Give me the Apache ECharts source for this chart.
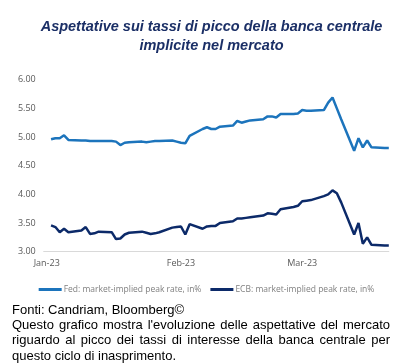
<!DOCTYPE html>
<html>
<head>
<meta charset="utf-8">
<script src="https://cdn.jsdelivr.net/npm/echarts@6/dist/echarts.min.js"></script>
<style>
  html, body { margin: 0; padding: 0; background: #ffffff; }
  #wrap { position: relative; width: 413px; height: 364px; overflow: hidden; }
  #chart { position: absolute; left: 0; top: 0; width: 413px; height: 364px; }
  #note { position: absolute; left: 12px; top: 301.5px; width: 378px;
          font-family: "Liberation Sans", Arial, sans-serif; font-size: 13px;
          line-height: 15.4px; color: #000; }
  #note .j { text-align: justify; text-align-last: justify; white-space: nowrap; }
  #note .l { text-align: left; white-space: nowrap; }
</style>
</head>
<body>
<div id="wrap">
  <div id="chart"></div>
  <div id="note">
    <div class="l">Fonti: Candriam, Bloomberg©</div>
    <div class="j">Questo grafico mostra l'evoluzione delle aspettative del mercato</div>
    <div class="j">riguardo al picco dei tassi di interesse della banca centrale per</div>
    <div class="l">questo ciclo di inasprimento.</div>
  </div>
</div>
<script>
// ---- data ----
const titleText = 'Aspettative sui tassi di picco della banca centrale\nimplicite nel mercato';
const seriesNames = ['Fed: market-implied peak rate, in%', 'ECB: market-implied peak rate, in%'];
const dates = [
  '2023-01-02','2023-01-03','2023-01-04','2023-01-05','2023-01-06',
  '2023-01-09','2023-01-10','2023-01-11','2023-01-12','2023-01-13',
  '2023-01-16','2023-01-17','2023-01-18','2023-01-19','2023-01-20',
  '2023-01-23','2023-01-24','2023-01-25','2023-01-26','2023-01-27',
  '2023-01-30','2023-01-31','2023-02-01','2023-02-02','2023-02-03',
  '2023-02-06','2023-02-07','2023-02-08','2023-02-09','2023-02-10',
  '2023-02-13','2023-02-14','2023-02-15','2023-02-16','2023-02-17',
  '2023-02-20','2023-02-21','2023-02-22','2023-02-23','2023-02-24',
  '2023-02-27','2023-02-28','2023-03-01','2023-03-02','2023-03-03',
  '2023-03-06','2023-03-07','2023-03-08','2023-03-09','2023-03-10',
  '2023-03-13','2023-03-14','2023-03-15','2023-03-16','2023-03-17',
  '2023-03-20','2023-03-21'
];
const fedValues = [
  4.96, 4.98, 4.98, 5.03, 4.95,
  4.94, 4.94, 4.93, 4.93, 4.93,
  4.93, 4.92, 4.86, 4.90, 4.91,
  4.92, 4.91, 4.92, 4.93, 4.93,
  4.94, 4.92, 4.90, 4.89, 5.02,
  5.14, 5.17, 5.14, 5.14, 5.18,
  5.20, 5.28, 5.25, 5.27, 5.29,
  5.31, 5.36, 5.36, 5.34, 5.40,
  5.40, 5.41, 5.47, 5.46, 5.46,
  5.47, 5.60, 5.69, 5.50, 5.31,
  4.76, 4.98, 4.82, 4.94, 4.82,
  4.81, 4.81
];
const ecbValues = [
  3.46, 3.43, 3.34, 3.40, 3.34,
  3.37, 3.43, 3.31, 3.32, 3.35,
  3.34, 3.22, 3.23, 3.30, 3.33,
  3.35, 3.33, 3.31, 3.32, 3.34,
  3.42, 3.43, 3.44, 3.30, 3.48,
  3.40, 3.44, 3.45, 3.45, 3.50,
  3.53, 3.58, 3.58, 3.59, 3.60,
  3.63, 3.67, 3.66, 3.65, 3.74,
  3.78, 3.80, 3.88, 3.89, 3.90,
  3.97, 4.00, 4.07, 4.02, 3.86,
  3.30, 3.50, 3.14, 3.25, 3.12,
  3.11, 3.11
];
const xTickDates = ['2023-01-01', '2023-02-01', '2023-03-01'];
const xTickLabels = ['Jan-23', 'Feb-23', 'Mar-23'];
const yMin = 3, yMax = 6, yInterval = 0.5;

// ---- helpers ----
const base = Date.UTC(2023, 0, 1);
function dayOf(s) {
  const p = s.split('-').map(Number);
  return (Date.UTC(p[0], p[1] - 1, p[2]) - base) / 86400000;
}
const tickDays = xTickDates.map(dayOf);
const labelMap = {};
tickDays.forEach((d, i) => { labelMap[d] = xTickLabels[i]; });

const fedData = dates.map((d, i) => [dayOf(d), fedValues[i]]);
const ecbData = dates.map((d, i) => [dayOf(d), ecbValues[i]]);

const fedColor = '#1c74bc';
const ecbColor = '#0c2a69';

const chart = echarts.init(document.getElementById('chart'), null, { renderer: 'canvas' });
chart.setOption({
  backgroundColor: '#ffffff',
  animation: false,
  title: {
    text: titleText,
    left: 206.5,
    top: 12,
    textAlign: 'center',
    textStyle: {
      fontFamily: 'Liberation Sans, Arial, sans-serif',
      fontSize: 14.5,
      fontWeight: 'bold',
      fontStyle: 'italic',
      color: '#1b2f66',
      lineHeight: 19
    }
  },
  legend: {
    top: 280,
    left: 'center',
    itemWidth: 23,
    itemHeight: 3,
    itemGap: 9,
    icon: 'rect',
    textStyle: {
      fontFamily: 'Open Sans, sans-serif',
      fontSize: 8.5,
      color: '#7f7f7f',
      padding: [0, 0, 0, -3]
    },
    data: seriesNames
  },
  grid: { left: 43.7, right: 24.2, top: 79.7, bottom: 112.3, containLabel: false },
  xAxis: {
    type: 'value',
    min: -0.7,
    max: 79,
    axisLine: { show: true, lineStyle: { color: '#d9d9d9', width: 1 } },
    axisTick: { show: false },
    splitLine: { show: false },
    axisLabel: {
      customValues: tickDays,
      formatter: v => labelMap[v] || '',
      color: '#595959',
      fontFamily: 'Open Sans, sans-serif',
      fontSize: 9,
      margin: 7
    }
  },
  yAxis: {
    type: 'value',
    min: yMin,
    max: yMax,
    interval: yInterval,
    axisLine: { show: false },
    axisTick: { show: false },
    splitLine: { show: false },
    axisLabel: {
      formatter: v => v.toFixed(2),
      color: '#595959',
      fontFamily: 'Open Sans, sans-serif',
      fontSize: 9,
      margin: 8
    }
  },
  series: [
    {
      name: seriesNames[0], type: 'line', data: fedData,
      showSymbol: false, symbol: 'none',
      lineStyle: { color: fedColor, width: 2.5 },
      itemStyle: { color: fedColor }
    },
    {
      name: seriesNames[1], type: 'line', data: ecbData,
      showSymbol: false, symbol: 'none',
      lineStyle: { color: ecbColor, width: 2.5 },
      itemStyle: { color: ecbColor }
    }
  ]
});
</script>
</body>
</html>
